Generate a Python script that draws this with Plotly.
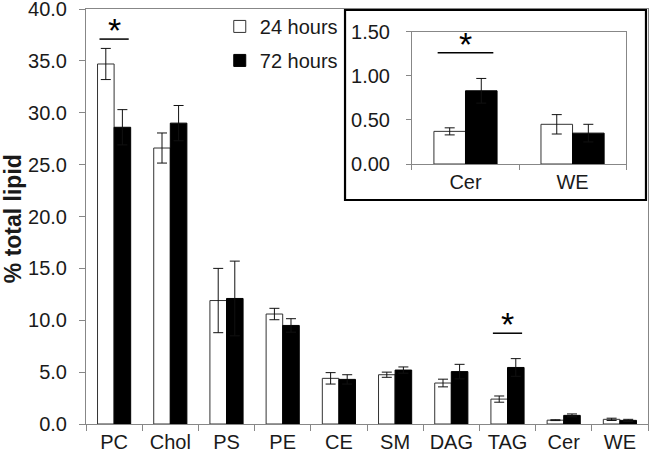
import plotly.graph_objects as go

# ---- data ----
categories = ["PC", "Chol", "PS", "PE", "CE", "SM", "DAG", "TAG", "Cer", "WE"]
h24 = [34.7, 26.6, 11.9, 10.6, 4.4, 4.75, 3.95, 2.4, 0.37, 0.45]
h24_err = [1.5, 1.45, 3.1, 0.55, 0.55, 0.25, 0.37, 0.3, 0.04, 0.11]
h72 = [28.6, 29.0, 12.1, 9.5, 4.3, 5.2, 5.05, 5.45, 0.83, 0.35]
h72_err = [1.7, 1.7, 3.6, 0.65, 0.45, 0.3, 0.7, 0.85, 0.14, 0.10]

inset_categories = ["Cer", "WE"]
inset_h24 = [0.37, 0.45]
inset_h24_err = [0.04, 0.11]
inset_h72 = [0.83, 0.35]
inset_h72_err = [0.14, 0.10]

y_ticks = [0, 5, 10, 15, 20, 25, 30, 35, 40]
inset_y_ticks = [0, 0.5, 1.0, 1.5]

# significance marks: (category index, bar-line height)
sig_main = [(0, 37.1), (7, 8.75)]
sig_inset = [(0, 1.26)]

TXT = "#1a1a1a"
AX = "#878787"
FONT = "Liberation Sans, Arial, sans-serif"
FS = 20

fig = go.Figure()

def err(v):
    return dict(type="data", array=v, visible=True, color="#111111", thickness=1, width=5)

fig.add_trace(go.Bar(x=categories, y=h24, error_y=err(h24_err), name="24 hours",
                     marker=dict(color="white", line=dict(color="#333333", width=1)),
                     legendgroup="a", xaxis="x", yaxis="y"))
fig.add_trace(go.Bar(x=categories, y=h72, error_y=err(h72_err), name="72 hours",
                     marker=dict(color="black", line=dict(color="black", width=1)),
                     legendgroup="b", xaxis="x", yaxis="y"))
fig.add_trace(go.Bar(x=inset_categories, y=inset_h24, error_y=err(inset_h24_err),
                     marker=dict(color="white", line=dict(color="#333333", width=1)),
                     showlegend=False, xaxis="x2", yaxis="y2"))
fig.add_trace(go.Bar(x=inset_categories, y=inset_h72, error_y=err(inset_h72_err),
                     marker=dict(color="black", line=dict(color="black", width=1)),
                     showlegend=False, xaxis="x2", yaxis="y2"))

shapes = []
annotations = []
for idx, yv in sig_main:
    shapes.append(dict(type="line", xref="x", yref="y", x0=idx - 0.26, x1=idx + 0.26,
                       y0=yv, y1=yv, line=dict(color="black", width=1.5)))
    annotations.append(dict(x=idx, y=yv, xref="x", yref="y", text="*", showarrow=False,
                            yanchor="bottom", yshift=-12,
                            font=dict(size=34, color="black", family=FONT)))
for idx, yv in sig_inset:
    shapes.append(dict(type="line", xref="x2", yref="y2", x0=idx - 0.26, x1=idx + 0.26,
                       y0=yv, y1=yv, line=dict(color="black", width=1.5)))
    annotations.append(dict(x=idx, y=yv, xref="x2", yref="y2", text="*", showarrow=False,
                            yanchor="bottom", yshift=-12,
                            font=dict(size=34, color="black", family=FONT)))

# inset frame
shapes.append(dict(type="rect", xref="paper", yref="paper", x0=0.4609, x1=0.9964,
                   y0=0.5398, y1=0.9976, line=dict(color="black", width=2.2),
                   fillcolor="rgba(0,0,0,0)", layer="above"))

annotations.append(dict(text="<b>% total lipid</b>", xref="paper", yref="paper",
                        x=-0.1295, y=0.4940, xanchor="center", yanchor="middle",
                        textangle=-90, showarrow=False,
                        font=dict(size=23, color=TXT, family=FONT)))

fig.update_layout(
    width=651, height=456,
    margin=dict(l=86, r=3, t=9, b=32, autoexpand=False),
    paper_bgcolor="white", plot_bgcolor="white",
    font=dict(family=FONT, size=FS, color=TXT),
    barmode="group", bargap=0.41, bargroupgap=0,
    showlegend=True,
    legend=dict(x=0.238, y=1.005, xanchor="left", yanchor="top",
                font=dict(size=FS, color=TXT, family=FONT),
                bgcolor="rgba(0,0,0,0)", tracegroupgap=5, itemwidth=30),
    xaxis=dict(domain=[0, 1], automargin=False, showline=True, linecolor=AX, linewidth=1,
               mirror=True, ticks="outside", tickson="boundaries", ticklen=6, tickcolor=AX,
               showgrid=False, tickfont=dict(size=FS, color=TXT)),
    yaxis=dict(domain=[0, 1], automargin=False, range=[0, 40], tickvals=y_ticks,
               tickformat=".1f", showline=True, linecolor=AX, linewidth=1, mirror=True,
               ticks="outside", ticklen=6, tickcolor=AX, showgrid=False, zeroline=False,
               ticklabelstandoff=8, ticklabeloverflow="allow",
               tickfont=dict(size=FS, color=TXT)),
    xaxis2=dict(domain=[0.580, 0.961], anchor="y2", automargin=False, showline=True,
                linecolor=AX, linewidth=1, mirror=True, ticks="outside",
                tickson="boundaries", ticklen=5, tickcolor=AX, showgrid=False,
                tickfont=dict(size=FS, color=TXT)),
    yaxis2=dict(domain=[0.6265, 0.9453], anchor="x2", automargin=False, range=[0, 1.5],
                tickvals=inset_y_ticks, tickformat=".2f", showline=True, linecolor=AX,
                linewidth=1, mirror=True, ticks="outside", ticklen=5, tickcolor=AX,
                showgrid=False, zeroline=False, ticklabelstandoff=12,
                ticklabeloverflow="allow", tickfont=dict(size=FS, color=TXT)),
    shapes=shapes,
    annotations=annotations,
)

fig.write_html("out.html", config={"displayModeBar": False},
               post_script="document.body.style.margin='0';document.body.style.overflow='hidden';")
